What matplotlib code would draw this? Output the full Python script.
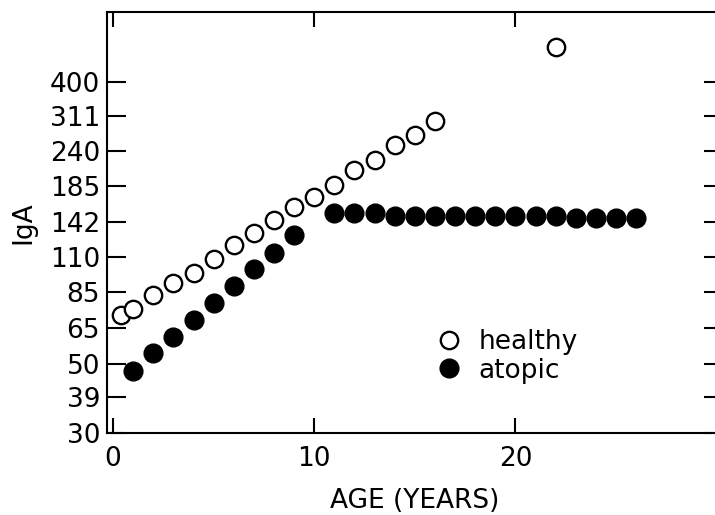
import matplotlib
matplotlib.use("Agg")
import matplotlib.pyplot as plt

plt.rc('font', family='DejaVu Sans', size=19)

# IgA level by age
healthy_age = [0.4, 1, 2, 3, 4, 5, 6, 7, 8, 9, 10, 11, 12, 13, 14, 15, 16, 22]
healthy_iga = [71.7, 74.9, 83.1, 90.6, 97.9, 108.1, 120.2, 131.3, 144.5, 158.5,
               171.2, 187.1, 208.2, 225.0, 250.5, 270.6, 300.7, 517.0]

atopic_age = [1, 2, 3, 4, 5, 6, 7, 8, 9, 11, 12, 13, 14, 15, 16, 17, 18, 19,
              20, 21, 22, 23, 24, 25, 26]
atopic_iga = [47.5, 54.0, 60.8, 69.1, 78.1, 88.8, 100.4, 113.4, 129.1, 151.8,
              151.8, 152.4, 148.8, 148.8, 148.8, 148.8, 148.8, 148.8, 148.8,
              148.8, 148.8, 146.1, 146.1, 146.1, 146.1]

yticks = [30, 39, 50, 65, 85, 110, 142, 185, 240, 311, 400]
xticks = [0, 10, 20]

fig = plt.figure(figsize=(7.15, 5.15), dpi=100)
ax = fig.add_axes([0.1497, 0.1592, 0.861, 0.8175])

ax.plot(healthy_age, healthy_iga, 'o', mfc='white', mec='black', mew=1.7,
        ms=12.5, ls='none', label='healthy')
ax.plot(atopic_age, atopic_iga, 'o', mfc='black', mec='black', ms=13.5,
        ls='none', label='atopic')

ax.set_yscale('log')
ax.set_ylim(30, 670)
ax.set_xlim(-0.3, 30.3)
ax.set_yticks(yticks)
ax.set_yticklabels([str(v) for v in yticks])
ax.yaxis.set_minor_locator(matplotlib.ticker.NullLocator())
ax.set_xticks(xticks)

ax.tick_params(axis='y', direction='in', length=14, width=1.5, left=True,
               right=True, pad=5)
ax.tick_params(axis='x', direction='in', length=11, width=1.5, bottom=True,
               top=True, pad=9)
for side in ['left', 'top', 'bottom', 'right']:
    ax.spines[side].set_linewidth(1.5)

ax.set_xlabel('AGE (YEARS)', labelpad=12)
ax.set_ylabel('IgA', labelpad=10)

ax.legend(frameon=False, loc='upper left', bbox_to_anchor=(0.522, 0.272),
          handlelength=0.8, handletextpad=0.7, labelspacing=0.1,
          borderaxespad=0)

fig.savefig('out.png', dpi=100)
